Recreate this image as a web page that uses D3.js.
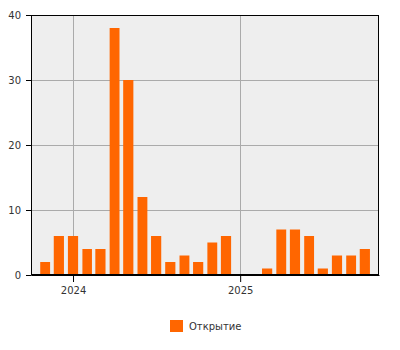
<!DOCTYPE html>
<html>
<head>
<meta charset="utf-8">
<script src="https://cdn.jsdelivr.net/npm/d3@7"></script>
<style>
  body { margin: 0; background: #fff; }
  text { font-family: "DejaVu Sans", Verdana, sans-serif; fill: #333; }
</style>
</head>
<body>
<div class="chart"></div>
<script>
// monthly counts, Nov 2023 .. Oct 2025
var months = ["2023-11", "2023-12", "2024-01", "2024-02", "2024-03", "2024-04",
  "2024-05", "2024-06", "2024-07", "2024-08", "2024-09", "2024-10", "2024-11",
  "2024-12", "2025-01", "2025-02", "2025-03", "2025-04", "2025-05", "2025-06",
  "2025-07", "2025-08", "2025-09", "2025-10"];
var openings = [2, 6, 6, 4, 4, 38, 30, 12, 6, 2, 3, 2, 5, 6, 0, 0, 1, 7, 7, 6, 1, 3, 3, 4];
var yTicks = [0, 10, 20, 30, 40];
var seriesName = "Открытие";

var svgWidth = 400;
var svgHeight = 350;
var margin = { top: 15, right: 21, bottom: 75, left: 31 };
var width = svgWidth - margin.left - margin.right;
var height = svgHeight - margin.top - margin.bottom;

var parseMonth = d3.timeParse("%Y-%m");
var data = months.map(function(m, i) {
  return { date: parseMonth(m), value: openings[i] };
});

var svg = d3.select(".chart")
  .append("svg")
  .attr("width", svgWidth)
  .attr("height", svgHeight);

var chartGroup = svg.append("g")
  .attr("transform", `translate(${margin.left}, ${margin.top})`);

var xScale = d3.scaleTime()
  .domain([new Date(2023, 9, 1), new Date(2025, 10, 1)])
  .range([0, width]);

var yScale = d3.scaleLinear()
  .domain([0, 40])
  .range([height, 0]);

// background
chartGroup.append("rect")
  .attr("width", width)
  .attr("height", height)
  .attr("fill", "#eeeeee");

var yearTicks = [new Date(2024, 0, 1), new Date(2025, 0, 1)];

// grid lines
chartGroup.selectAll(".vgrid")
  .data(yearTicks)
  .enter()
  .append("line")
  .attr("x1", d => Math.round(xScale(d)) + 0.5)
  .attr("x2", d => Math.round(xScale(d)) + 0.5)
  .attr("y1", 0)
  .attr("y2", height)
  .attr("stroke", "#aaaaaa");

chartGroup.selectAll(".hgrid")
  .data(yTicks.slice(1, -1))
  .enter()
  .append("line")
  .attr("x1", 0)
  .attr("x2", width)
  .attr("y1", d => Math.round(yScale(d)) + 0.5)
  .attr("y2", d => Math.round(yScale(d)) + 0.5)
  .attr("stroke", "#aaaaaa");

// bars, centered on the first day of each month
chartGroup.selectAll(".bar")
  .data(data.filter(d => d.value > 0))
  .enter()
  .append("rect")
  .attr("x", function(d) {
    var step = xScale(d3.timeMonth.offset(d.date, 1)) - xScale(d.date);
    return xScale(d.date) - step * 0.36;
  })
  .attr("width", function(d) {
    return (xScale(d3.timeMonth.offset(d.date, 1)) - xScale(d.date)) * 0.72;
  })
  .attr("y", d => yScale(d.value))
  .attr("height", d => height - yScale(d.value))
  .attr("fill", "#ff6600");

// frame
chartGroup.append("rect")
  .attr("x", 0.5)
  .attr("y", 0.5)
  .attr("width", width - 1)
  .attr("height", height - 1)
  .attr("fill", "none")
  .attr("stroke", "#000");

// axes
var bottomAxis = d3.axisBottom(xScale)
  .tickValues(yearTicks)
  .tickFormat(d3.timeFormat("%Y"))
  .tickSize(7)
  .tickSizeOuter(0)
  .tickPadding(5);

var leftAxis = d3.axisLeft(yScale)
  .tickValues(yTicks)
  .tickSize(5)
  .tickSizeOuter(0)
  .tickPadding(5);

var xAxis = chartGroup.append("g")
  .attr("transform", `translate(0, ${height})`)
  .call(bottomAxis);

var yAxis = chartGroup.append("g")
  .call(leftAxis);

[xAxis, yAxis].forEach(function(ax) {
  ax.select(".domain").attr("stroke", "#000");
  ax.selectAll(".tick line").attr("stroke", "#000");
  ax.selectAll(".tick text")
    .attr("font-size", 10)
    .attr("fill", "#333")
    .style("font-family", "'DejaVu Sans', Verdana, sans-serif");
});

// legend
var legend = svg.append("g")
  .attr("transform", "translate(170, 320)");

legend.append("rect")
  .attr("width", 13)
  .attr("height", 12)
  .attr("fill", "#ff6600");

legend.append("text")
  .attr("x", 19)
  .attr("y", 10)
  .attr("font-size", 10)
  .text(seriesName);
</script>
</body>
</html>
